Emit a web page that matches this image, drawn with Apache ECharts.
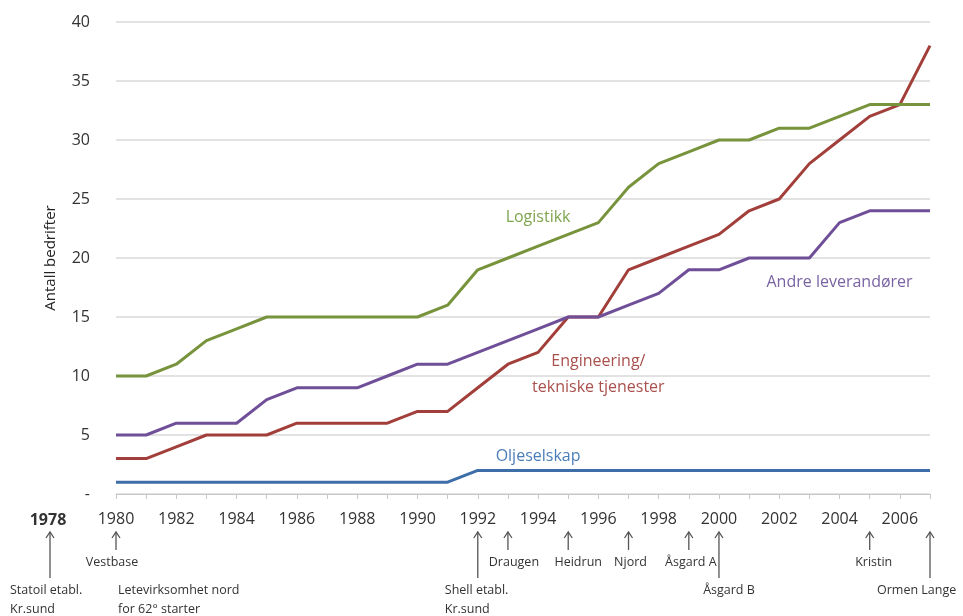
<!DOCTYPE html>
<html>
<head>
<meta charset="utf-8">
<script src="https://cdn.jsdelivr.net/npm/echarts@6/dist/echarts.min.js"></script>
<style>
html,body{margin:0;padding:0;background:#fff;}
#c{width:963px;height:616px;}
</style>
</head>
<body>
<div id="c"></div>
<script>
// ---- data ----
const years = ['1980','1981','1982','1983','1984','1985','1986','1987','1988','1989','1990','1991','1992','1993','1994','1995','1996','1997','1998','1999','2000','2001','2002','2003','2004','2005','2006','2007'];
const logistikk   = [10,10,11,13,14,15,15,15,15,15,15,16,19,20,21,22,23,26,28,29,30,30,31,31,32,33,33,33];
const engineering = [3,3,4,5,5,5,6,6,6,6,7,7,9,11,12,15,15,19,20,21,22,24,25,28,30,32,33,38];
const andre       = [5,5,6,6,6,8,9,9,9,10,11,11,12,13,14,15,15,16,17,19,19,20,20,20,23,24,24,24];
const olje        = [1,1,1,1,1,1,1,1,1,1,1,1,2,2,2,2,2,2,2,2,2,2,2,2,2,2,2,2];
const yTicks = [0,5,10,15,20,25,30,35,40];

// events on the time line
const eventYears  = ['1980','1992','1993','1995','1997','1999','2000','2005','2007'];
const eventLabels = [['Vestbase'],['Shell etabl.','Kr.sund'],['Draugen'],['Heidrun'],['Njord'],['Åsgard A'],['Åsgard B'],['Kristin'],['Ormen Lange']];
const eventLong   = [false,true,false,false,false,false,true,false,true];
// layout only: horizontal text offset relative to arrow, and alignment
const eventDx     = [-4,-33,6,10,2,2,10,4,-53];
const eventAlign  = ['center','left','center','center','center','center','center','center','left'];

const C = {
  green:'#77933C', red:'#A23F3B', purple:'#6F4F98', blue:'#3E6EA8',
  greenT:'#7EA44E', redT:'#A9514D', purpleT:'#7A63A3', blueT:'#4A7DB8'
};
const FONT = '"Open Sans", "Noto Sans", sans-serif';

const chart = echarts.init(document.getElementById('c'));
function line(name, data, color){
  return {name, type:'line', data, symbol:'none', smooth:false,
    lineStyle:{color, width:3}, itemStyle:{color}, z:3};
}
chart.setOption({
  animation:false,
  grid:{left:116, right:33, top:22, bottom:122, containLabel:false},
  xAxis:{
    type:'category', data:years, boundaryGap:false,
    axisLine:{lineStyle:{color:'#C8C8C8', width:1}},
    axisTick:{show:true, interval:0, length:5, lineStyle:{color:'#C8C8C8'}},
    axisLabel:{interval:1, color:'#333', fontFamily:FONT, fontSize:16, margin:17},
    splitLine:{show:false}
  },
  yAxis:{
    type:'value', min:0, max:40, interval:5,
    axisLine:{show:false}, axisTick:{show:false},
    axisLabel:{color:'#333', fontFamily:FONT, fontSize:16, margin:26,
      formatter: v => (v === 0 ? '-' : String(v))},
    splitLine:{lineStyle:{color:'#D9D9D9', width:1.5}},
    name:'Antall bedrifter', nameLocation:'middle', nameGap:58, nameRotate:90,
    nameTextStyle:{color:'#222', fontFamily:FONT, fontSize:15}
  },
  series:[
    line('Oljeselskap', olje, C.blue),
    line('Engineering/ tekniske tjenester', engineering, C.red),
    line('Andre leverandører', andre, C.purple),
    line('Logistikk', logistikk, C.green)
  ]
});

// ---- annotations (positions via chart scales) ----
const seriesLabels = [
  {text:'Logistikk', at:[14, 23.4], color:C.greenT},
  {text:'Andre leverandører', at:[23.7, 17.9], color:C.purpleT},
  {text:'Engineering/\ntekniske tjenester', at:[16.05, 10.1], color:C.redT},
  {text:'Oljeselskap', at:[14, 3.2], color:C.blueT}
];
const g = [];
seriesLabels.forEach(l => {
  const p = chart.convertToPixel({gridIndex:0}, l.at);
  g.push({type:'text', x:p[0], y:p[1], z:10,
    style:{text:l.text, fill:l.color, font:'16px ' + FONT, align:'center', verticalAlign:'middle', lineHeight:26}});
});

const axisY = chart.convertToPixel({yAxisIndex:0}, 0);
const arrowTop = axisY + 38;
function arrow(x, long){
  const y2 = arrowTop + (long ? 46 : 18);
  g.push({type:'line', shape:{x1:x, y1:arrowTop, x2:x, y2:y2}, style:{stroke:'#555', lineWidth:1.3}});
  g.push({type:'polyline', shape:{points:[[x-4, arrowTop+6],[x, arrowTop],[x+4, arrowTop+6]]}, style:{stroke:'#555', lineWidth:1.3, fill:null}});
}
function label(x, y, text, align){
  g.push({type:'text', x, y, style:{text, fill:'#333', font:'12.5px ' + FONT, align, verticalAlign:'middle'}});
}
eventYears.forEach((yr, i) => {
  const x = chart.convertToPixel({xAxisIndex:0}, yr);
  arrow(x, eventLong[i]);
  const lines = eventLabels[i];
  const baseY = eventLong[i] ? arrowTop + 58 : arrowTop + 30;
  lines.forEach((t, k) => label(x + eventDx[i], baseY + k * 19, t, eventAlign[i]));
});
// 1980 extra text block
const x1980 = chart.convertToPixel({xAxisIndex:0}, '1980');
label(x1980 + 2, arrowTop + 58, 'Letevirksomhet nord', 'left');
label(x1980 + 2, arrowTop + 77, 'for 62° starter', 'left');
// 1978 marker (left of the axis)
const x1978 = 48;
g.push({type:'text', x:x1978, y:axisY + 26, style:{text:'1978', fill:'#333', font:'bold 16px ' + FONT, align:'center', verticalAlign:'middle'}});
arrow(x1978 + 2, true);
label(10, arrowTop + 58, 'Statoil etabl.', 'left');
label(10, arrowTop + 77, 'Kr.sund', 'left');

chart.setOption({graphic:g});
</script>
</body>
</html>
